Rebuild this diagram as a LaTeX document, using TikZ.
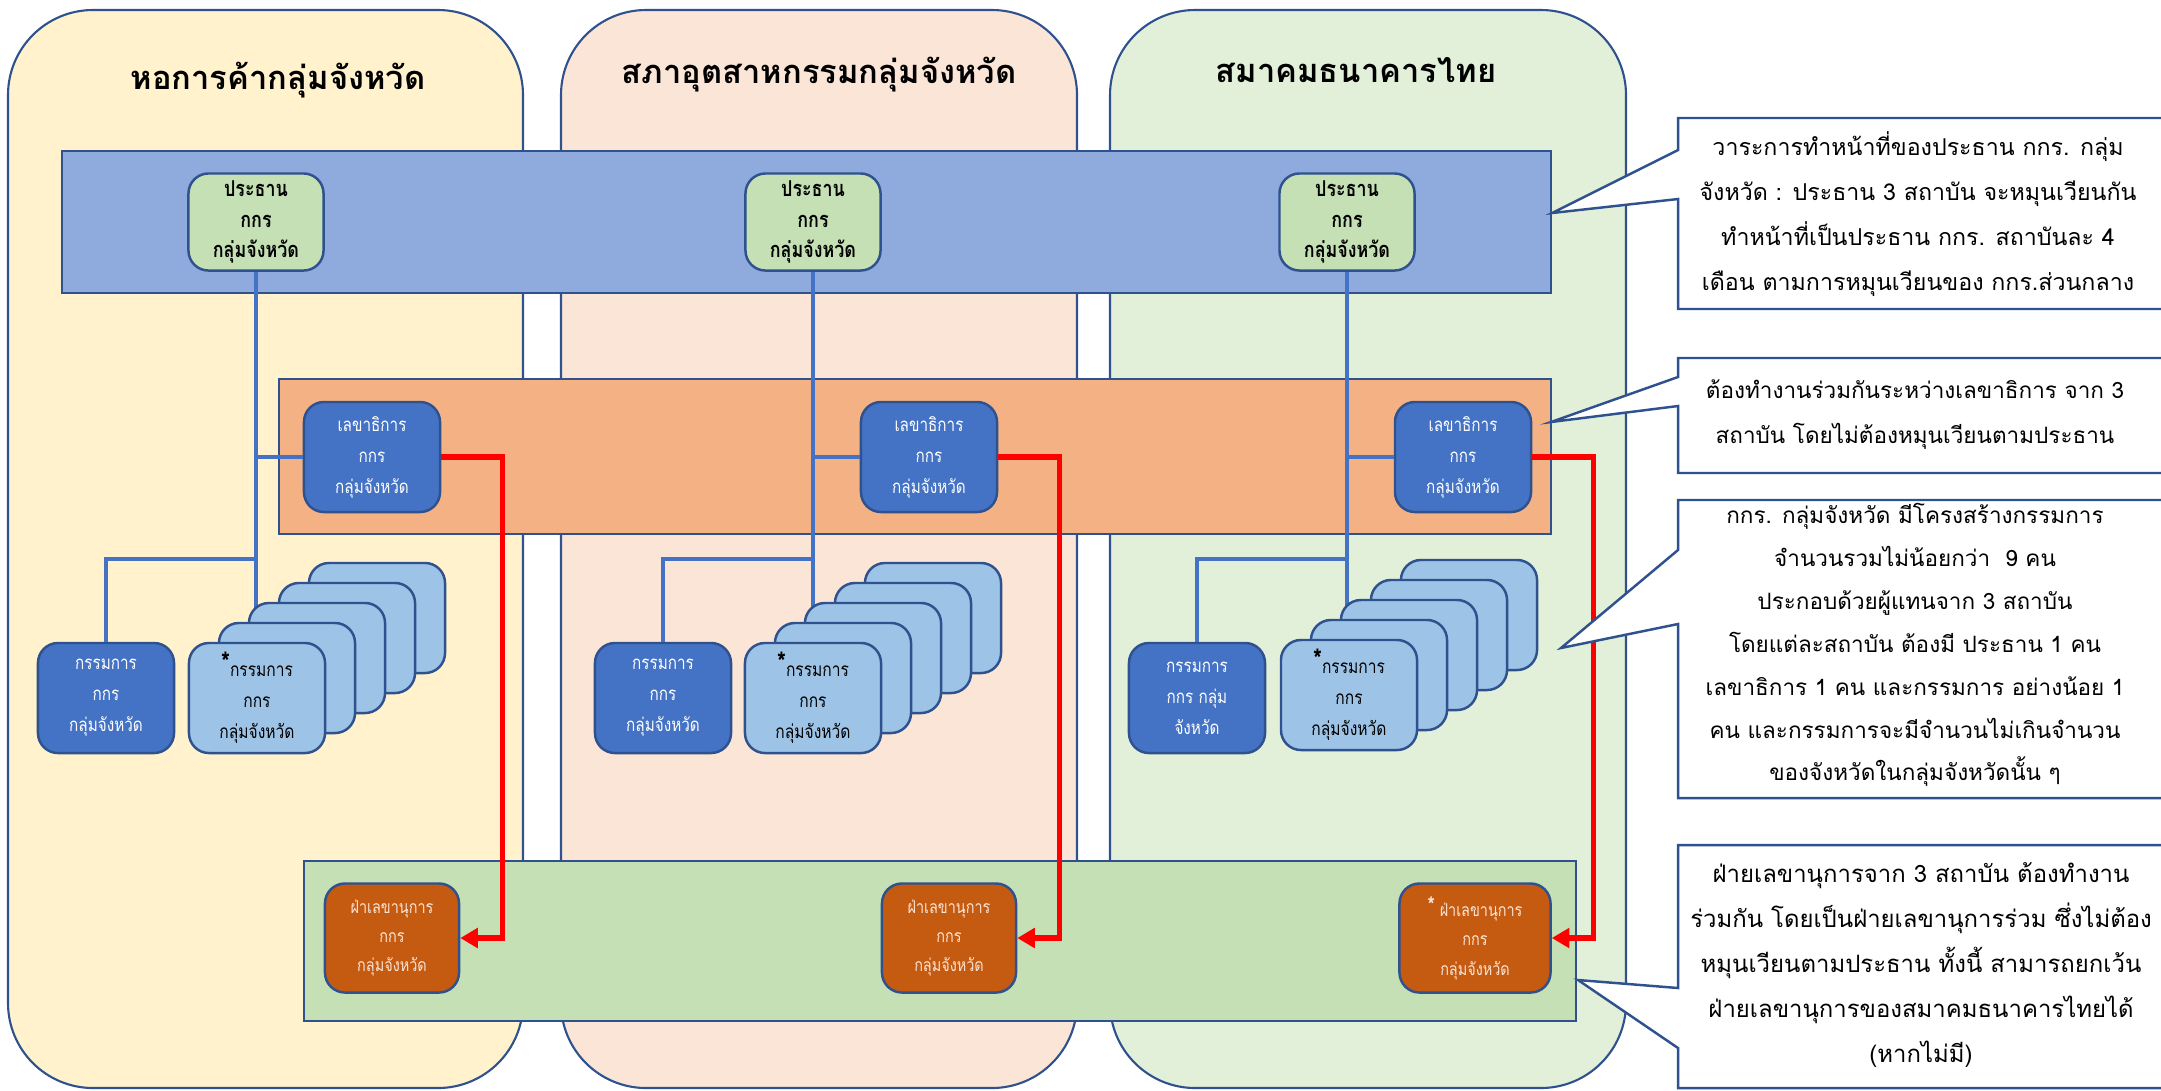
\documentclass[tikz,border=0pt]{standalone}
\usepackage{fontspec}
\usetikzlibrary{calc,arrows.meta,positioning}
\newfontfamily\thai[Script=Thai]{Loma}
\newfontfamily\thainarrow[Script=Thai,FakeStretch=0.82]{Loma}
\definecolor{kkborder}{RGB}{47,82,143}
\definecolor{kkyellow}{RGB}{255,242,204}
\definecolor{kkpeach}{RGB}{251,229,214}
\definecolor{kkmint}{RGB}{226,240,217}
\definecolor{kkband}{RGB}{143,170,220}
\definecolor{kkorange}{RGB}{244,177,131}
\definecolor{kkgreen}{RGB}{197,224,180}
\definecolor{kkblue}{RGB}{68,114,196}
\definecolor{kklight}{RGB}{157,195,230}
\definecolor{kkrust}{RGB}{197,90,17}
\definecolor{kkred}{RGB}{255,0,0}

\begin{document}
\begin{tikzpicture}[x=0.01cm,y=-0.01cm,
  panel/.style={draw=kkborder,line width=0.6pt,rounded corners=0.85cm},
  band/.style={draw=kkborder,line width=0.8pt},
  box/.style={draw=kkborder,line width=0.7pt,rounded corners=0.2cm,minimum width=1.36cm,minimum height=1.1cm,inner sep=0pt,align=center,font=\thainarrow\fontsize{5.3}{8.8}\selectfont},
  chair/.style={box,fill=kkgreen,minimum width=1.35cm,minimum height=0.97cm,font=\thainarrow\bfseries\fontsize{6.2}{8.8}\selectfont},
  sec/.style={box,fill=kkblue,text=white},
  member/.style={box,fill=kklight,font=\thainarrow\fontsize{5.4}{8.8}\selectfont},
  office/.style={box,fill=kkrust,text=kkpeach,minimum width=1.34cm,minimum height=1.09cm,font=\thainarrow\fontsize{5}{8.3}\selectfont},
  conn/.style={draw=kkblue,line width=1pt},
  redline/.style={draw=kkred,line width=1.5pt,-{Triangle[length=5pt,width=5.5pt]}},
  title/.style={font=\thai\bfseries\fontsize{9.3}{11}\selectfont},
  note/.style={draw=kkborder,line width=0.7pt,fill=white},
  notetext/.style={align=center,font=\thai\fontsize{6.6}{12.8}\selectfont}
]
\useasboundingbox (0,0) rectangle (2161,1090);
\clip (0,0) rectangle (2161,1090);

% the three institutions
\draw[panel,fill=kkyellow] (8,10) rectangle (523,1088);
\draw[panel,fill=kkpeach] (561,10) rectangle (1077,1088);
\draw[panel,fill=kkmint] (1110,10) rectangle (1626,1088);
\node[title] (head1) at (278,80) {หอการค้ากลุ่มจังหวัด};
\node[title] (head2) at (819,75) {สภาอุตสาหกรรมกลุ่มจังหวัด};
\node[title] (head3) at (1356,70) {สมาคมธนาคารไทย};

% chairmen
\draw[band,fill=kkband] (62,151) rectangle (1551,293);
\node[chair] (chair1) at (256,222) {ประธาน\\กกร\\กลุ่มจังหวัด};
\node[chair] (chair2) at (813,222) {ประธาน\\กกร\\กลุ่มจังหวัด};
\node[chair] (chair3) at (1347,222) {ประธาน\\กกร\\กลุ่มจังหวัด};

% secretaries
\draw[band,fill=kkorange] (279,379) rectangle (1551,534);
\node[sec] (sec1) at (372,457) {เลขาธิการ\\กกร\\กลุ่มจังหวัด};
\node[sec] (sec2) at (929,457) {เลขาธิการ\\กกร\\กลุ่มจังหวัด};
\node[sec] (sec3) at (1463,457) {เลขาธิการ\\กกร\\กลุ่มจังหวัด};

% committee members
\node[sec] (com1) at (106,698) {กรรมการ\\กกร\\กลุ่มจังหวัด};
\node[sec] (com2) at (663,698) {กรรมการ\\กกร\\กลุ่มจังหวัด};
\node[sec] (com3) at (1197,698) {กรรมการ\\กกร กลุ่ม\\จังหวัด};

% joint secretariat
\draw[band,fill=kkgreen] (304,861) rectangle (1576,1021);
\node[office] (off1) at (392,938) {ฝ่าเลขานุการ\\กกร\\กลุ่มจังหวัด};
\node[office] (off2) at (949,938) {ฝ่าเลขานุการ\\กกร\\กลุ่มจังหวัด};
\node[office,minimum width=1.51cm] (off3) at (1475,938) {\raisebox{1pt}{\fontsize{6.5}{6.5}\selectfont\textbf{*}}\ ฝ่าเลขานุการ\\กกร\\กลุ่มจังหวัด};

% tree lines
\coordinate (split) at (0,559);
\coordinate (stack1) at (257,698);
\coordinate (stack2) at (813,698);
\coordinate (stack3) at (1349,695);
\foreach \i in {1,2,3} {
    \draw[conn] (chair\i.south) -- (chair\i.south |- stack\i);
    \draw[conn] (chair\i.south |- sec\i.west) -- (sec\i.west);
    \draw[conn] (com\i.north) |- (chair\i.south |- split);
}

% stacked member cards
\foreach \i in {1,2,3} {
    \foreach \k in {4,3,2,1}
        \node[member] (mem\i-\k) at ([shift={(30*\k,-20*\k)}]stack\i) {};
    \node[member] (mem\i) at (stack\i) {\raisebox{1.2pt}{\fontsize{8}{8}\selectfont\textbf{*}}กรรมการ\\กกร\\กลุ่มจังหวัด};
}

% secretary -> secretariat
\foreach \i in {1,2,3}
    \draw[redline] (sec\i.east) -- ++(61,0) |- (off\i.east);

% notes
\draw[note] (2170,118) -- (1678,118) -- (1678,150) -- (1552,213) -- (1678,199) -- (1678,309) -- (2170,309);
\node[notetext] (note1) at (1918,214) {วาระการทำหน้าที่ของประธาน กกร. กลุ่ม\\จังหวัด : ประธาน 3 สถาบัน จะหมุนเวียนกัน\\ทำหน้าที่เป็นประธาน กกร. สถาบันละ 4\\เดือน ตามการหมุนเวียนของ กกร.ส่วนกลาง};

\draw[note] (2170,358) -- (1678,358) -- (1678,377) -- (1551,422) -- (1678,406) -- (1678,473) -- (2170,473);
\node[notetext,font=\thai\fontsize{6.4}{12.8}\selectfont] (note2) at (1915,415) {ต้องทำงานร่วมกันระหว่างเลขาธิการ จาก 3\\สถาบัน โดยไม่ต้องหมุนเวียนตามประธาน};

\draw[note] (2170,500) -- (1678,500) -- (1678,550) -- (1561,648) -- (1678,624) -- (1678,798) -- (2170,798);
\node[notetext,font=\thai\fontsize{6.4}{12.2}\selectfont] (note3) at (1915,645) {กกร. กลุ่มจังหวัด มีโครงสร้างกรรมการ\\จำนวนรวมไม่น้อยกว่า\ \ 9 คน\\ประกอบด้วยผู้แทนจาก 3 สถาบัน\\โดยแต่ละสถาบัน ต้องมี ประธาน 1 คน\\เลขาธิการ 1 คน และกรรมการ อย่างน้อย 1\\คน และกรรมการจะมีจำนวนไม่เกินจำนวน\\ของจังหวัดในกลุ่มจังหวัดนั้น ๆ};

\draw[note] (2170,845) -- (1678,845) -- (1678,988) -- (1578,980) -- (1678,1048) -- (1678,1088) -- (2170,1088);
\node[notetext,font=\thai\fontsize{6.8}{12.8}\selectfont] (note4) at (1921,965) {ฝ่ายเลขานุการจาก 3 สถาบัน ต้องทำงาน\\ร่วมกัน โดยเป็นฝ่ายเลขานุการร่วม ซึ่งไม่ต้อง\\หมุนเวียนตามประธาน ทั้งนี้ สามารถยกเว้น\\ฝ่ายเลขานุการของสมาคมธนาคารไทยได้\\(หากไม่มี)};
\end{tikzpicture}
\end{document}
